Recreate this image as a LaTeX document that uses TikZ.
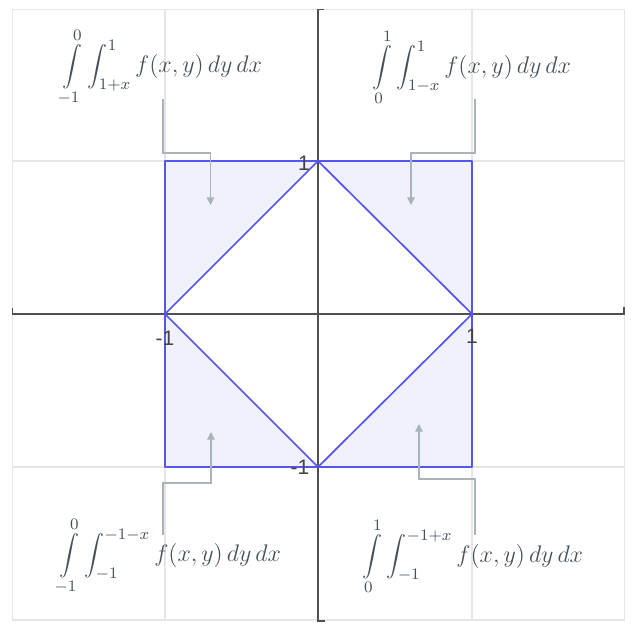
\documentclass[tikz,border=0pt]{standalone}
\usepackage{fontspec}
\newfontfamily\labelfont{Liberation Sans}
\usetikzlibrary{arrows.meta,calc}
\definecolor{regline}{HTML}{5555F0}
\definecolor{regfill}{HTML}{F1F1FD}
\definecolor{gridc}{HTML}{E6E6E6}
\definecolor{axisc}{HTML}{505050}
\definecolor{pointc}{HTML}{A8B3BA}
\definecolor{formc}{HTML}{44505A}
\tikzset{
  gridline/.style={draw=gridc, line width=0.75pt},
  axisline/.style={draw=axisc, line width=0.7pt},
  region/.style={fill=regfill, draw=none},
  edge/.style={draw=regline, line width=0.85pt, line join=round},
  pointer/.style={draw=pointc, line width=0.55pt, -{Triangle[width=3.8pt,length=3.8pt]}},
  formula/.style={text=formc, inner sep=0pt, font=\fontsize{12}{14}\selectfont},
  ticklabel/.style={text=axisc!85!black, inner sep=0pt, font=\labelfont\fontsize{10.5}{12}\selectfont}
}
\begin{document}
\begin{tikzpicture}[x=0.5pt,y=-0.5pt]
\useasboundingbox (0,0) rectangle (635,636);
% grid
\draw[gridline] (12.5,9.5) rectangle (624.5,620);
\draw[gridline] (165,9.5) -- (165,620) (472,9.5) -- (472,620);
\draw[gridline] (12.5,161) -- (624.5,161) (12.5,467) -- (624.5,467);
% key points
\coordinate (T) at (318,161);
\coordinate (B) at (318,467);
\coordinate (L) at (165,314);
\coordinate (R) at (472,314);
\coordinate (TL) at (165,161);
\coordinate (TR) at (472,161);
\coordinate (BL) at (165,467);
\coordinate (BR) at (472,467);
% shaded regions
\fill[region] (TL) -- (T) -- (L) -- cycle;
\fill[region] (T) -- (TR) -- (R) -- cycle;
\fill[region] (L) -- (BL) -- (B) -- cycle;
\fill[region] (R) -- (BR) -- (B) -- cycle;
% axes
\coordinate (xl) at (12.5,314);
\coordinate (xr) at (624,314);
\coordinate (yt) at (318,9.5);
\coordinate (yb) at (318,621);
\draw[axisline] ($(xl)+(0,-6)$) -- (xl) -- (xr) -- ++(0,-7);
\draw[axisline] ($(yt)+(6,0)$) -- (yt) -- (yb) -- ++(7,0);
% region boundaries
\draw[edge] (TL) rectangle (BR);
\draw[edge] (T) -- (R) -- (B) -- (L) -- cycle;
% tick labels
\node[ticklabel] (ly1) at (304,163) {1};
\node[ticklabel] (lx0) at (165,338) {-1};
\node[ticklabel] (lx1) at (472,336) {1};
\node[ticklabel] (ly0) at (300,467) {-1};
% formulas
\node[formula] (fTL) at (162,67) {$\displaystyle\int\limits_{-1}^{0}\int_{1+x}^{1} f(x,y)\,dy\,dx$};
\node[formula] (fTR) at (472,67) {$\displaystyle\int\limits_{0}^{1}\int_{1-x}^{1} f(x,y)\,dy\,dx$};
\node[formula] (fBL) at (170,556) {$\displaystyle\int\limits_{-1}^{0}\int_{-1}^{-1-x} f(x,y)\,dy\,dx$};
\node[formula] (fBR) at (473,556) {$\displaystyle\int\limits_{0}^{1}\int_{-1}^{-1+x} f(x,y)\,dy\,dx$};
% pointers
\coordinate (sTL) at (163,99);   \coordinate (eTL) at (210.5,205);
\coordinate (sTR) at (475,99);   \coordinate (eTR) at (411,205);
\coordinate (sBL) at (163,535);  \coordinate (eBL) at (211,432);
\coordinate (sBR) at (475,535);  \coordinate (eBR) at (419,424);
\draw[pointer] (sTL) -- ++(0,54) -| (eTL);
\draw[pointer] (sTR) -- ++(0,54) -| (eTR);
\draw[pointer] (sBL) -- ++(0,-52) -| (eBL);
\draw[pointer] (sBR) -- ++(0,-56) -| (eBR);
\end{tikzpicture}
\end{document}
